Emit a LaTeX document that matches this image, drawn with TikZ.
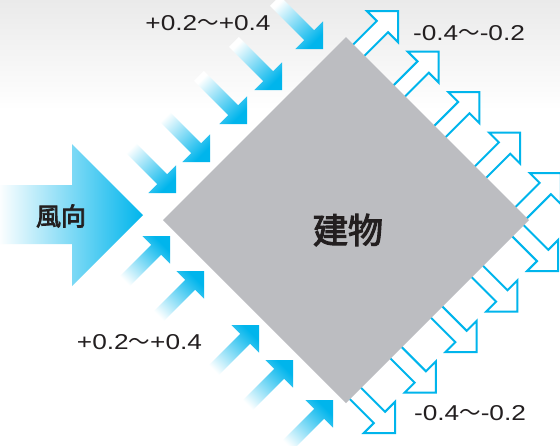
\documentclass[tikz,border=0pt]{standalone}
\usepackage{fontspec}
\setmainfont{Liberation Sans}
\newfontfamily\numfont[FakeStretch=1.22]{Liberation Sans}
\newfontfamily\cjkfont{Noto Sans CJK JP}
\newfontfamily\cjkmedium[FakeBold=3]{Noto Sans CJK JP}
\definecolor{windcyan}{RGB}{0,181,236}
\definecolor{bldgray}{RGB}{188,189,193}
\definecolor{inkblack}{RGB}{35,31,32}
\definecolor{hazegray}{RGB}{234,234,234}
\tikzset{
  inSE/.pic={\shade[top color=white, bottom color=windcyan, shading angle=45]
    (-68,-7) -- (-19.5,-7) -- (-19.5,-19.5) -- (0,0) -- (-19.5,19.5) -- (-19.5,7) -- (-68,7) -- cycle;},
  inNE/.pic={\shade[top color=white, bottom color=windcyan, shading angle=135]
    (-68,-7) -- (-19.5,-7) -- (-19.5,-19.5) -- (0,0) -- (-19.5,19.5) -- (-19.5,7) -- (-68,7) -- cycle;},
  outarrow/.pic={\draw[windcyan, line width=2pt, fill=white, line join=miter]
    (-80,-8) -- (-22,-8) -- (-22,-22) -- (0,0) -- (-22,22) -- (-22,8) -- (-80,8) -- cycle;},
  numlabel/.style={text=inkblack, anchor=base, inner sep=0pt, font=\fontsize{21.5}{24}\selectfont},
  cjklabel/.style={text=inkblack, inner sep=0pt},
}
\begin{document}
\begin{tikzpicture}[x=1pt, y=-1pt]
\useasboundingbox (0,0) rectangle (560,445);
\clip (0,0) rectangle (560,445);
\fill[white] (0,0) rectangle (560,445);
\shade[top color=hazegray, bottom color=white] (0,0) rectangle (560,110);
% outgoing arrows (leeward)
\foreach \i in {0,...,4} {
  \pic[rotate=45] at ({398+40.7*\i},{11+40.5*\i}) {outarrow};
  \pic[rotate=-45] at ({395+40.8*\i},{433-40.5*\i}) {outarrow};
}
% building
\fill[bldgray] (346,37) -- (529,220) -- (346,403) -- (163,220) -- cycle;
% incoming arrows (windward)
\foreach \p in {(323,49),(282,90),(247,124),(210,162),(176,193)} {
  \pic[rotate=-45] at \p {inSE};
}
\foreach \p in {(170,236),(204,271),(259,325),(293,360),(333,400)} {
  \pic[rotate=45] at \p {inNE};
}
% wind direction arrow
\shade[left color=white, right color=windcyan]
  (-2,185) -- (72,185) -- (72,144) -- (143,215) -- (72,286) -- (72,244) -- (-2,244) -- cycle;
% labels
\node[cjklabel, font=\cjkmedium\fontsize{25}{28}\selectfont] (wind) at (61,216) {風向};
\node[cjklabel, font=\cjkmedium\fontsize{35}{38}\selectfont] (bldg) at (348,230) {建物};
\node[numlabel] (lblTL) at (208,30.7) {{\numfont +0.2}{\cjkfont ～}{\numfont +0.4}};
\node[numlabel] (lblTR) at (469,40.7) {{\numfont -0.4}{\cjkfont ～}{\numfont -0.2}};
\node[numlabel] (lblBL) at (139.5,349) {{\numfont +0.2}{\cjkfont ～}{\numfont +0.4}};
\node[numlabel] (lblBR) at (470,420) {{\numfont -0.4}{\cjkfont ～}{\numfont -0.2}};
\end{tikzpicture}
\end{document}
